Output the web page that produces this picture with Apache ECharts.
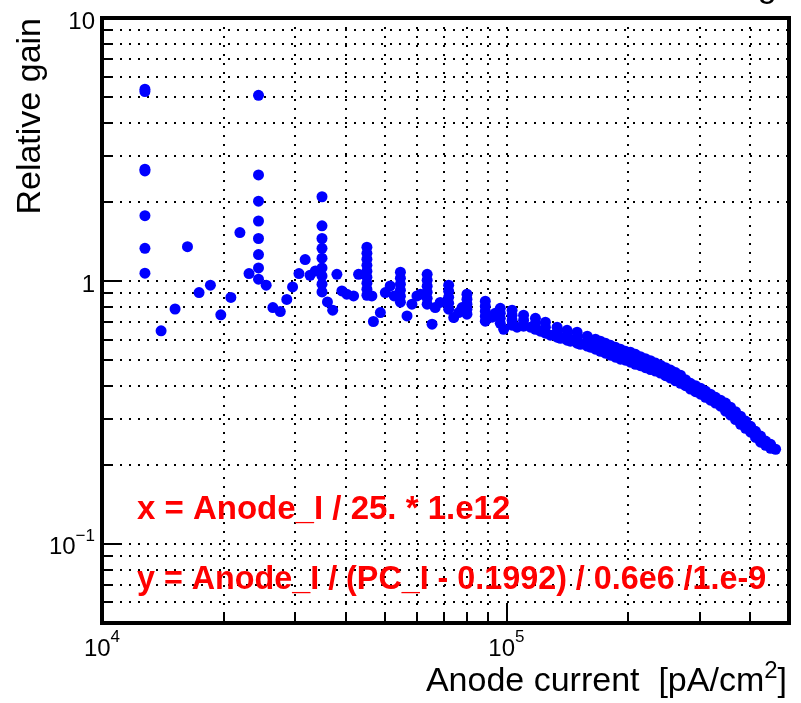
<!DOCTYPE html>
<html><head><meta charset="utf-8">
<script src="https://cdn.jsdelivr.net/npm/echarts@6/dist/echarts.min.js"></script>
<style>html,body{margin:0;padding:0;background:#fff}#c{width:801px;height:703px}</style>
</head><body><div id="c"></div>
<script>
// Axis tick values
const xMajorTicks = [1e4, 1e5];
const xGridTicks = [2e4,3e4,4e4,5e4,6e4,7e4,8e4,9e4,1e5,2e5,3e5,4e5];
const yMajorTicks = [0.1, 1, 10];
const yGridTicks = [0.06,0.07,0.08,0.09,0.1,0.2,0.3,0.4,0.5,0.6,0.7,0.8,0.9,1,2,3,4,5,6,7,8,9];

// Scattered low-current measurements [anode current pA/cm2, relative gain]
const lowCurrentPoints = [
  [12770,5.36],[12770,5.25],[12770,2.66],[12770,2.62],[12770,1.77],[12770,1.33],[12770,1.07],
  [14000,0.646],[15160,0.782],[16270,1.35],[17380,0.903],[18540,0.963],[19670,0.743],[20830,0.865],[21930,1.527],[23100,1.067],
  [24380,5.08],[24380,2.53],[24380,2.01],[24380,1.69],[24380,1.45],[24380,1.26],[24380,1.12],[24380,1.015],
  [25470,0.963],[26460,0.792],[27600,0.765],[28640,0.85],[29600,0.949],[30700,1.067],[31800,1.206],[32700,1.051],[33700,1.092],
  [35000,2.09],[35000,1.62],[35000,1.45],[35000,1.33],[35000,1.22],[35000,1.12],[35000,1.045],[35000,0.972],[35000,0.908],
  [36100,0.832],[37200,0.774],[38100,1.06],[39200,0.916],[40300,0.89],[41900,0.877],[43100,1.06]
];
// Mid-current measurements with vertical spikes
const midCurrentPoints = [
  [45200,1.343],[45200,1.274],[45200,1.209],[45200,1.147],[45200,1.089],[45200,1.033],[45200,0.98],[45200,0.93],[45200,0.882],
  [46500,0.877],[46900,0.701],[48800,0.758],[50200,0.903],[51600,0.957],[52800,0.877],
  [54700,1.079],[54700,1.024],[54700,0.972],[54700,0.922],[54700,0.875],[54700,0.83],
  [56800,0.736],[58400,0.816],[60100,0.877],[61300,0.89],
  [63700,1.06],[63700,1.006],[63700,0.955],[63700,0.906],[63700,0.859],[63700,0.816],
  [65500,0.685],[66700,0.792],[68600,0.828],
  [72000,0.963],[72000,0.914],[72000,0.867],[72000,0.823],[72000,0.781],
  [74100,0.726],[76200,0.758],[77700,0.792],
  [79900,0.89],[79900,0.852],[79900,0.816],[79900,0.781],[79900,0.747]
];
// High-current dense band
const highCurrentPoints = [
  [88700,0.837],[88700,0.801],[88700,0.767],[88700,0.734],[88700,0.703],
  [92200,0.728],[93900,0.754],
  [96600,0.787],[96600,0.754],[96600,0.721],[96600,0.690],[98500,0.655],
  [103300,0.774],[103300,0.741],[103300,0.709],[103300,0.679],[106300,0.667],
  [110300,0.741],[110300,0.709],[110300,0.673],[114700,0.667],
  [118000,0.721],[118000,0.690],[118000,0.655],[121400,0.644],
  [124900,0.697],[124900,0.667],[124900,0.633],[128500,0.622],
  [133500,0.667],[133500,0.638],[133500,0.611],[136100,0.605],
  [141300,0.649],[141300,0.622],[141300,0.595],[144000,0.590],
  [149600,0.638],[149600,0.611],[149600,0.580],[152500,0.574],
  [158500,0.616],[158500,0.590],[158500,0.565],[161400,0.560],
  [166100,0.600],[166100,0.574],[166100,0.550],
  [170900,0.590],[170900,0.565],[170900,0.540],[175800,0.580],[175800,0.555],[175800,0.531],
  [180900,0.569],[180900,0.545],[180900,0.522],[186100,0.560],[186100,0.536],[186100,0.513],
  [191500,0.550],[191500,0.526],[191500,0.504],[197000,0.540],[197000,0.519],[197000,0.4995],
  [202700,0.536],[202700,0.513],[202700,0.491],[208600,0.526],[208600,0.504],[208600,0.482],
  [214600,0.515],[214600,0.495],[214600,0.476],[220800,0.506],[220800,0.487],[220800,0.468],
  [227200,0.497],[227200,0.478],[227200,0.460],[233800,0.487],[233800,0.470],[233800,0.454],
  [240500,0.478],[240500,0.462],[240500,0.446],[247500,0.468],[247500,0.452],[247500,0.436],
  [254600,0.458],[254600,0.442],[254600,0.427],[262000,0.448],[262000,0.432],[262000,0.417],
  [269600,0.438],[269600,0.423],[269600,0.408],[277300,0.421],[277300,0.410],[277300,0.3995],
  [285300,0.408],[285300,0.398],[285300,0.388],[293600,0.3995],[293600,0.389],[293600,0.379],
  [302100,0.391],[302100,0.381],[302100,0.371],[310800,0.381],[310800,0.371],[310800,0.361],
  [319800,0.371],[319800,0.361],[319800,0.352],[329000,0.361],[329000,0.352],[329000,0.343],
  [338600,0.352],[338600,0.343],[338600,0.334],[348400,0.343],[348400,0.331],[348400,0.320],
  [358400,0.331],[358400,0.320],[358400,0.309],[368800,0.318],[368800,0.307],[368800,0.297],
  [379400,0.306],[379400,0.295],[379400,0.285],[390400,0.293],[390400,0.284],[390400,0.275],
  [401800,0.280],[401800,0.273],[401800,0.266],[413300,0.268],[413300,0.261],[413300,0.254],
  [425300,0.257],[425300,0.250],[425300,0.2435],[437600,0.246],[437600,0.2415],[437600,0.237],
  [450300,0.239],[450300,0.235],[450300,0.231],[463300,0.229]
];

const FONT = '"Liberation Sans", Arial, Helvetica, sans-serif';
function expLabel(v){
  const e = Math.round(Math.log10(v));
  if (e === 0) return '{b|1}';
  if (e === 1) return '{b|10}';
  return '{b|10}{s|' + (e < 0 ? '\u2212' + (-e) : e) + '}';
}
const richLab = {
  b:{fontSize:24, fontFamily:FONT, color:'#000', lineHeight:32, verticalAlign:'bottom'},
  s:{fontSize:17, fontFamily:FONT, color:'#000', lineHeight:19, verticalAlign:'top'}
};
const gridLine = {show:true, lineStyle:{color:'#000', width:2, type:[2,7]}};
const tickStyle = {color:'#000', width:2};
const dotStyle = {color:'#0000ff', opacity:1};

const chart = echarts.init(document.getElementById('c'), null, {renderer:'canvas'});
chart.setOption({
  animation:false,
  backgroundColor:'#fff',
  textStyle:{fontFamily:FONT},
  grid:{left:102, right:12, top:18, bottom:80, show:true, borderColor:'#000', borderWidth:4, backgroundColor:'transparent', outerBoundsMode:'none', containLabel:false},
  xAxis:[
    {type:'log', logBase:10, min:1e4, max:5e5, position:'bottom',
     axisLine:{show:false},
     axisTick:{show:true, inside:true, length:20, lineStyle:tickStyle, customValues:xMajorTicks},
     axisLabel:{show:true, margin:6, customValues:xMajorTicks, formatter:expLabel, rich:richLab},
     splitLine:{show:false}, minorTick:{show:false}, minorSplitLine:{show:false}},
    {type:'log', logBase:10, min:1e4, max:5e5, position:'bottom',
     axisLine:{show:false},
     axisTick:{show:true, inside:true, length:10, lineStyle:tickStyle, customValues:xGridTicks},
     axisLabel:{show:false},
     splitLine:gridLine, minorTick:{show:false}, minorSplitLine:{show:false}}
  ],
  yAxis:[
    {type:'log', logBase:10, min:0.05, max:10, position:'left',
     axisLine:{show:false},
     axisTick:{show:true, inside:true, length:20, lineStyle:tickStyle, customValues:yMajorTicks},
     axisLabel:{show:true, margin:7, customValues:yMajorTicks, formatter:expLabel, rich:richLab},
     splitLine:{show:false}, minorTick:{show:false}, minorSplitLine:{show:false}},
    {type:'log', logBase:10, min:0.05, max:10, position:'left',
     axisLine:{show:false},
     axisTick:{show:true, inside:true, length:10, lineStyle:tickStyle, customValues:yGridTicks},
     axisLabel:{show:false},
     splitLine:gridLine, minorTick:{show:false}, minorSplitLine:{show:false}}
  ],
  series:[
    {type:'scatter', xAxisIndex:0, yAxisIndex:0, symbol:'circle', symbolSize:11, itemStyle:dotStyle, data:lowCurrentPoints, z:5},
    {type:'scatter', xAxisIndex:0, yAxisIndex:0, symbol:'circle', symbolSize:11, itemStyle:dotStyle, data:midCurrentPoints, z:5},
    {type:'scatter', xAxisIndex:0, yAxisIndex:0, symbol:'circle', symbolSize:11, itemStyle:dotStyle, data:highCurrentPoints, z:5}
  ],
  graphic:[
    {type:'text', x:822, y:5, z:100, style:{text:'Relative gain', font:'34px ' + FONT, fill:'#000', align:'right', verticalAlign:'bottom'}},
    {type:'text', x:31, y:18, rotation:Math.PI/2, z:100, style:{text:'Relative gain', font:'34px ' + FONT, fill:'#000', align:'right', verticalAlign:'middle'}},
    {type:'text', x:787, y:679, z:100, style:{text:'{a|Anode current  [pA/cm}{s|2}{a|]}', align:'right', verticalAlign:'middle',
      rich:{a:{fontSize:34, fontFamily:FONT, fill:'#000', lineHeight:40, verticalAlign:'bottom'}, s:{fontSize:24, fontFamily:FONT, fill:'#000', lineHeight:24, verticalAlign:'top'}}}},
    {type:'text', x:137, y:510, z:100, style:{text:'x = Anode_I / 25. * 1.e12', font:'bold 33px ' + FONT, fill:'#ff0000', align:'left', verticalAlign:'middle'}},
    {type:'text', x:137, y:580, z:100, style:{text:'y = Anode_I / (PC_I - 0.1992) / 0.6e6 /1.e-9', font:'bold 32.3px ' + FONT, fill:'#ff0000', align:'left', verticalAlign:'middle'}}
  ]
});
</script></body></html>
